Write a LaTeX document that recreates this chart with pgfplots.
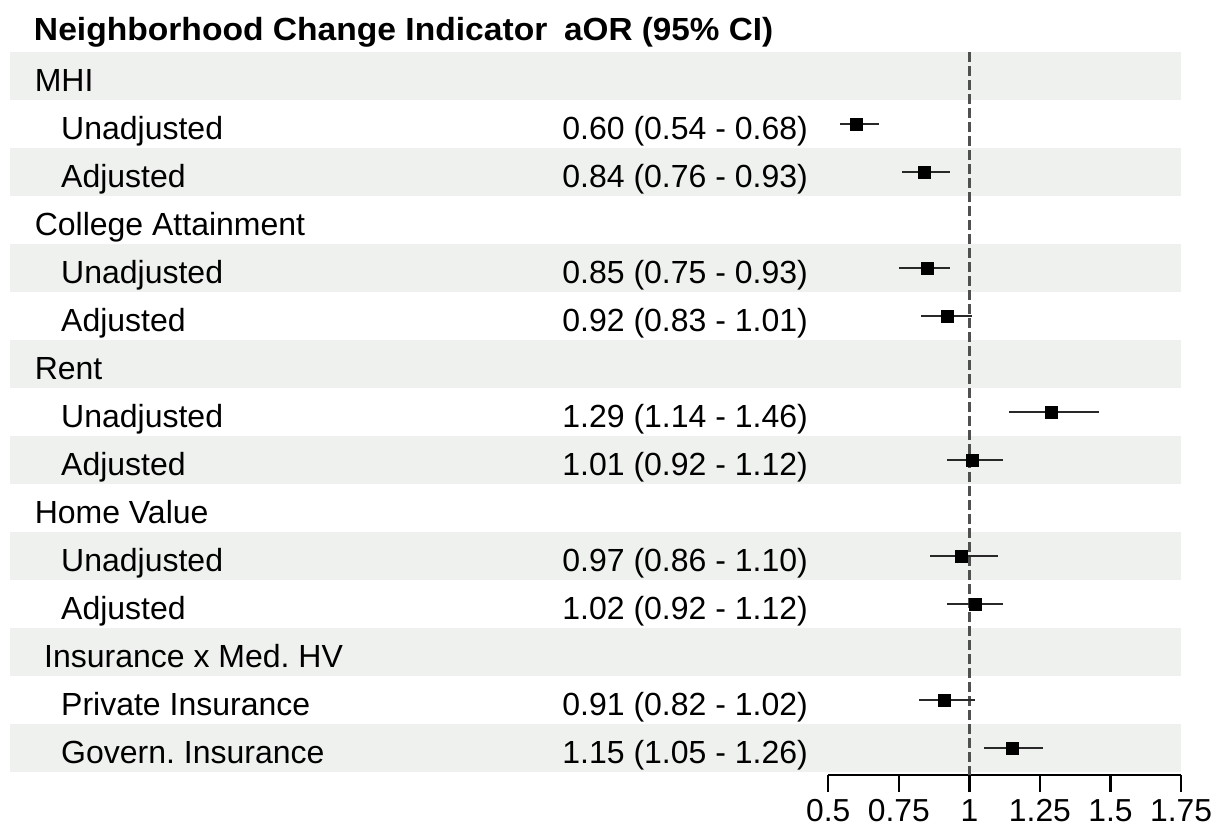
\documentclass[border=0pt]{standalone}
\usepackage{pgfplots}
\usepackage{pgfplotstable}
\usepackage{graphicx}
\pgfplotsset{compat=1.18}
\usepackage{fontspec}
\setmainfont{Liberation Sans}
\frenchspacing
\definecolor{band}{RGB}{239,241,239}
\definecolor{refline}{RGB}{80,80,80}
\definecolor{ciline}{RGB}{40,40,40}

\pgfplotstableread{
row est ep em
-2 0.60 0.08 0.06
-3 0.84 0.09 0.08
-5 0.85 0.08 0.10
-6 0.92 0.09 0.09
-8 1.29 0.17 0.15
-9 1.01 0.11 0.09
-11 0.97 0.13 0.11
-12 1.02 0.10 0.10
-14 0.91 0.11 0.09
-15 1.15 0.11 0.10
}\forestdata

\begin{document}
\frenchspacing
\fontsize{16}{18}\selectfont
\begin{tikzpicture}[font=\fontsize{16}{18}\selectfont\frenchspacing]
\begin{axis}[
  scale only axis,
  width=176.35pt, height=387.5pt,
  xmin=0.5, xmax=1.75, ymin=-15.556, ymax=0.59,
  clip=false,
  axis x line*=bottom,
  axis y line=none,
  axis line style={-, black, line width=1.2pt},
  xtick={0.5,0.75,1,1.25,1.5,1.75},
  xticklabels={0.5,0.75,1,1.25,1.5,1.75},
  tick align=outside,
  major tick length=8.5pt,
  tick style={black, line width=1.2pt},
  xticklabel style={inner sep=0pt, yshift=-3.5pt, text=black, font=\fontsize{15.9}{18}\selectfont},
  ytick=\empty,
]
% bounding box of the whole picture
\path (axis cs:-2.4351,0.59) rectangle (axis cs:1.8703,-16.62);
% alternating row bands
\fill[band] (axis cs:-2.3997,-0.5) rectangle (axis cs:1.75,-1.5);
\fill[band] (axis cs:-2.3997,-2.5) rectangle (axis cs:1.75,-3.5);
\fill[band] (axis cs:-2.3997,-4.5) rectangle (axis cs:1.75,-5.5);
\fill[band] (axis cs:-2.3997,-6.5) rectangle (axis cs:1.75,-7.5);
\fill[band] (axis cs:-2.3997,-8.5) rectangle (axis cs:1.75,-9.5);
\fill[band] (axis cs:-2.3997,-10.5) rectangle (axis cs:1.75,-11.5);
\fill[band] (axis cs:-2.3997,-12.5) rectangle (axis cs:1.75,-13.5);
\fill[band] (axis cs:-2.3997,-14.5) rectangle (axis cs:1.75,-15.5);
% reference line
\draw[refline, line width=1.15pt, dash pattern=on 5pt off 2pt] (axis cs:1,-0.5) -- (axis cs:1,-15.556);
% header
\node[anchor=base west, inner sep=0pt] at (axis cs:-2.316,-0.244) {\scalebox{1.05}[1]{\textbf{Neighborhood Change Indicator}}};
\node[anchor=base west, inner sep=0pt] at (axis cs:-0.4373,-0.244) {\scalebox{1.04}[1]{\textbf{aOR (95\% CI)}}};
% labels column 1
\node[anchor=base west, inner sep=0pt] at (axis cs:-2.3133,-1.32) {MHI};
\node[anchor=base west, inner sep=0pt] at (axis cs:-2.2197,-2.32) {Unadjusted};
\node[anchor=base west, inner sep=0pt] at (axis cs:-2.2197,-3.32) {Adjusted};
\node[anchor=base west, inner sep=0pt] at (axis cs:-2.3133,-4.32) {College Attainment};
\node[anchor=base west, inner sep=0pt] at (axis cs:-2.2197,-5.32) {Unadjusted};
\node[anchor=base west, inner sep=0pt] at (axis cs:-2.2197,-6.32) {Adjusted};
\node[anchor=base west, inner sep=0pt] at (axis cs:-2.3133,-7.32) {Rent};
\node[anchor=base west, inner sep=0pt] at (axis cs:-2.2197,-8.32) {Unadjusted};
\node[anchor=base west, inner sep=0pt] at (axis cs:-2.2197,-9.32) {Adjusted};
\node[anchor=base west, inner sep=0pt] at (axis cs:-2.3133,-10.32) {Home Value};
\node[anchor=base west, inner sep=0pt] at (axis cs:-2.2197,-11.32) {Unadjusted};
\node[anchor=base west, inner sep=0pt] at (axis cs:-2.2197,-12.32) {Adjusted};
\node[anchor=base west, inner sep=0pt] at (axis cs:-2.280,-13.32) {Insurance x Med. HV};
\node[anchor=base west, inner sep=0pt] at (axis cs:-2.2197,-14.32) {Private Insurance};
\node[anchor=base west, inner sep=0pt] at (axis cs:-2.2197,-15.32) {Govern. Insurance};
% labels column 2
\node[anchor=base west, inner sep=0pt] at (axis cs:-0.4437,-2.32) {0.60 (0.54 - 0.68)};
\node[anchor=base west, inner sep=0pt] at (axis cs:-0.4437,-3.32) {0.84 (0.76 - 0.93)};
\node[anchor=base west, inner sep=0pt] at (axis cs:-0.4437,-5.32) {0.85 (0.75 - 0.93)};
\node[anchor=base west, inner sep=0pt] at (axis cs:-0.4437,-6.32) {0.92 (0.83 - 1.01)};
\node[anchor=base west, inner sep=0pt] at (axis cs:-0.4437,-8.32) {1.29 (1.14 - 1.46)};
\node[anchor=base west, inner sep=0pt] at (axis cs:-0.4437,-9.32) {1.01 (0.92 - 1.12)};
\node[anchor=base west, inner sep=0pt] at (axis cs:-0.4437,-11.32) {0.97 (0.86 - 1.10)};
\node[anchor=base west, inner sep=0pt] at (axis cs:-0.4437,-12.32) {1.02 (0.92 - 1.12)};
\node[anchor=base west, inner sep=0pt] at (axis cs:-0.4437,-14.32) {0.91 (0.82 - 1.02)};
\node[anchor=base west, inner sep=0pt] at (axis cs:-0.4437,-15.32) {1.15 (1.05 - 1.26)};
% estimates with CIs
\addplot[only marks, mark=square*, mark size=3pt, black,
  mark options={line width=0.2pt},
  error bars/.cd, x dir=both, x explicit, error mark=none,
  error bar style={line width=1pt, ciline}]
  table[x=est, y=row, x error plus=ep, x error minus=em] {\forestdata};
\end{axis}
\end{tikzpicture}
\end{document}
